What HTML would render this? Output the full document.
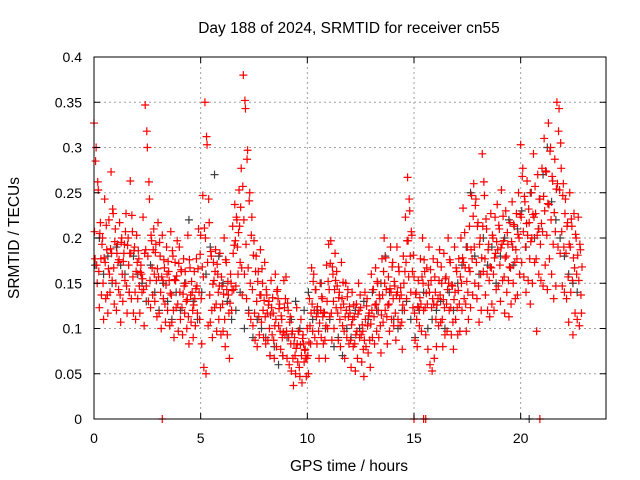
<!DOCTYPE html>
<html><head><meta charset="utf-8"><style>
body{margin:0;background:#fff}
svg{display:block;font-family:"Liberation Sans",sans-serif}
</style></head><body>
<svg id="chart" width="640" height="480" viewBox="0 0 640 480">
<rect width="640" height="480" fill="#fff"/>
<g id="grid"></g>
<g id="marks"></g>
<g id="axes"></g>
<text x="349" y="33" font-size="15.5" text-anchor="middle">Day 188 of 2024, SRMTID for receiver cn55</text>
<text x="349" y="471" font-size="15.5" text-anchor="middle">GPS time / hours</text>
<text transform="translate(19,238) rotate(-90)" font-size="15.5" text-anchor="middle">SRMTID / TECUs</text>
</svg>
<script>
const xTicks=[0,5,10,15,20];
const yTicks=[0,0.05,0.1,0.15,0.2,0.25,0.3,0.35,0.4];
const yTickLabels=["0","0.05","0.1","0.15","0.2","0.25","0.3","0.35","0.4"];
const redStart=0, redStep=0.1;
const redA=[.33,.30,.25,.22,.20,.24,.19,.22,.27,.23,.21,.19,.22,.20,.18,.23,.20,.26,.21,.19,.20,.18,.17,.22,.35,.30,.24,.20,.21,.19,.22,.18,.20,.17,.19,.16,.21,.18,.17,.20,.19,.16,.18,.15,.20,.17,.14,.16,.18,.21,.20,.25,.35,.30,.22,.18,.17,.19,.16,.18,.15,.20,.17,.14,.16,.21,.24,.22,.25,.28,.38,.34,.30,.25,.22,.20,.18,.16,.19,.15,.17,.14,.13,.15,.12,.16,.14,.13,.11,.15,.16,.12,.11,.10,.09,.12,.10,.11,.09,.08,.10,.13,.17,.16,.14,.12,.15,.13,.12,.17,.19,.20,.16,.18,.15,.14,.17,.13,.15,.14,.12,.14,.11,.13,.15,.12,.10,.14,.13,.12,.16,.14,.17,.15,.13,.18,.20,.14,.16,.19,.17,.15,.19,.16,.14,.18,.22,.27,.23,.20,.16,.14,.15,.18,.20,.16,.17,.19,.15,.18,.14,.17,.19,.15,.18,.16,.20,.17,.15,.19,.16,.18,.20,.23,.17,.19,.21,.25,.26,.24,.22,.20,.29,.25,.21,.19,.23,.20,.22,.24,.21,.25,.20,.23,.19,.22,.24,.21,.23,.25,.30,.28,.24,.26,.22,.25,.29,.23,.27,.24,.28,.31,.27,.33,.30,.26,.29,.35,.34,.28,.26,.24,.22,.25,.21,.23,.20,.22,.19];
const redB=[.21,.17,.16,.18,.15,.17,.14,.16,.18,.17,.15,.17,.14,.16,.19,.15,.17,.18,.16,.14,.17,.15,.16,.14,.19,.18,.15,.17,.16,.15,.16,.14,.15,.13,.16,.15,.14,.12,.15,.13,.14,.12,.15,.13,.11,.14,.12,.13,.15,.14,.13,.16,.20,.17,.14,.12,.15,.13,.14,.12,.13,.11,.14,.12,.15,.18,.20,.19,.21,.17,.22,.19,.17,.15,.14,.12,.13,.11,.14,.12,.11,.12,.10,.12,.09,.11,.13,.10,.09,.12,.10,.09,.08,.07,.07,.08,.06,.07,.08,.07,.07,.10,.13,.12,.11,.10,.12,.11,.09,.13,.14,.12,.13,.15,.12,.11,.13,.10,.12,.11,.09,.11,.08,.10,.12,.09,.08,.11,.10,.09,.12,.11,.13,.12,.10,.14,.15,.11,.13,.14,.13,.12,.14,.13,.11,.15,.17,.20,.18,.16,.12,.11,.12,.13,.15,.12,.13,.14,.12,.13,.11,.13,.14,.11,.12,.13,.15,.12,.11,.14,.12,.13,.15,.17,.13,.14,.16,.18,.19,.17,.15,.16,.21,.18,.16,.15,.17,.16,.18,.19,.17,.19,.16,.18,.15,.17,.19,.17,.18,.20,.22,.21,.19,.20,.18,.20,.22,.18,.21,.19,.21,.23,.20,.24,.22,.19,.21,.26,.25,.21,.19,.18,.16,.19,.15,.17,.16,.15,.14];
const redC=[.18,.15,.12,.14,.11,.13,.12,.14,.15,.13,.12,.14,.11,.13,.15,.12,.14,.13,.12,.11,.13,.12,.14,.10,.15,.13,.12,.14,.13,.11,.12,.10,.13,.11,.12,.10,.11,.09,.12,.10,.11,.09,.12,.10,.08,.11,.09,.10,.12,.11,.08,.06,.05,.10,.11,.09,.12,.10,.11,.09,.10,.08,.09,.07,.12,.14,.15,.16,.17,.14,.16,.13,.12,.11,.10,.09,.08,.09,.11,.09,.08,.09,.07,.09,.07,.08,.10,.08,.07,.09,.07,.06,.05,.04,.05,.06,.05,.04,.06,.05,.05,.08,.10,.09,.08,.07,.09,.08,.07,.10,.11,.09,.10,.12,.09,.08,.10,.07,.09,.08,.06,.08,.05,.07,.09,.06,.05,.08,.07,.06,.09,.08,.10,.09,.07,.11,.12,.08,.10,.11,.10,.09,.11,.10,.08,.12,.13,.16,.14,.12,.09,.08,.10,.10,.12,.09,.08,.06,.05,.07,.08,.10,.11,.08,.09,.10,.12,.09,.08,.11,.09,.10,.12,.13,.10,.11,.12,.14,.15,.13,.11,.12,.16,.14,.12,.11,.13,.12,.14,.15,.13,.15,.12,.14,.11,.13,.15,.13,.14,.16,.17,.16,.14,.15,.13,.15,.17,.10,.16,.15,.15,.17,.14,.18,.16,.13,.15,.19,.18,.15,.14,.13,.11,.14,.09,.12,.11,.10,.12];
const redD=[.285,.262,.205,.193,.178,.214,.166,.188,.232,.196,.183,.176,.195,.174,.207,.192,.183,.225,.186,.163,.186,.162,.155,.183,.318,.262,.203,.187,.184,.166,.195,.157,.176,.148,.174,.139,.186,.154,.158,.172,.165,.138,.163,.132,.176,.152,.126,.144,.166,.182,.168,.211,.312,.243,.185,.149,.163,.171,.147,.157,.138,.176,.152,.128,.142,.192,.223,.206,.234,.257,.352,.287,.241,.203,.181,.163,.152,.137,.166,.131,.143,.126,.115,.134,.103,.141,.122,.114,.096,.133,.128,.107,.094,.083,.078,.097,.082,.089,.076,.067,.085,.117,.152,.143,.124,.106,.135,.118,.103,.152,.172,.168,.143,.163,.134,.123,.151,.113,.135,.124,.104,.126,.093,.116,.137,.104,.087,.125,.114,.105,.143,.126,.152,.137,.115,.163,.178,.126,.144,.168,.152,.137,.168,.145,.126,.163,.197,.243,.207,.181,.138,.124,.134,.157,.176,.139,.148,.165,.133,.157,.126,.153,.168,.132,.155,.143,.176,.148,.132,.167,.142,.157,.178,.206,.152,.167,.187,.224,.236,.213,.193,.178,.262,.221,.187,.168,.203,.178,.196,.214,.189,.224,.178,.206,.168,.196,.215,.187,.204,.226,.268,.246,.216,.232,.196,.226,.257,.203,.243,.216,.246,.274,.238,.296,.268,.228,.254,.318,.305,.247,.227,.213,.193,.221,.178,.204,.181,.193,.168];
const blackStart=0.05, blackStep=0.2;
const blackVals=[.17,.20,.16,.18,.15,.19,.17,.16,.14,.18,.16,.15,.13,.17,.14,.12,.15,.13,.11,.14,.12,.15,.22,.13,.11,.14,.16,.19,.27,.18,.15,.13,.11,.12,.14,.10,.12,.09,.11,.10,.09,.07,.08,.06,.07,.09,.11,.13,.10,.12,.14,.11,.12,.15,.10,.11,.08,.09,.07,.10,.09,.12,.10,.13,.11,.14,.12,.15,.18,.14,.11,.10,.12,.13,.11,.09,.12,.14,.10,.11,.12,.13,.10,.14,.12,.15,.17,.19,.25,.18,.16,.20,.17,.19,.15,.18,.20,.22,.17,.21,.23,.19,.25,.20,.21,.27,.30,.24,.22,.20,.18,.16,.15,.14];
const zeroRedTimes=[3.2,15.0,15.45,15.55,20.9];
const zeroRedVals=[0,0,0,0,0];
const zeroBlackTimes=[20.4];
const zeroBlackVals=[0];

const X0=94,X1=606,Y0=419,Y1=57,XMAX=24,YMAX=0.4;
const xs=t=>X0+(t/XMAX)*(X1-X0);
const ys=v=>Y0-(v/YMAX)*(Y0-Y1);
const NS="http://www.w3.org/2000/svg";
function mk(tag,attrs,parent){const e=document.createElementNS(NS,tag);for(const k in attrs)e.setAttribute(k,attrs[k]);parent.appendChild(e);return e;}
const grid=document.getElementById('grid'),axes=document.getElementById('axes'),marks=document.getElementById('marks');
yTicks.forEach((v,i)=>{const y=ys(v);
 if(i>0&&i<yTicks.length-1){const g=mk('line',{x1:X0,x2:X1,y1:y,y2:y,stroke:'#a0a0a0','stroke-dasharray':'2,3'},grid);
 
 }
 mk('line',{x1:X0,x2:X0+6,y1:y,y2:y,stroke:'#000'},axes);
 mk('line',{x1:X1,x2:X1-6,y1:y,y2:y,stroke:'#000'},axes);
 const t=mk('text',{x:X0-12,y:y+5,'font-size':14,'text-anchor':'end'},axes);t.textContent=yTickLabels[i];
 
 
});
xTicks.forEach(v=>{const x=xs(v);
 if(v>0){const g=mk('line',{x1:x,x2:x,y1:Y0,y2:Y1,stroke:'#a0a0a0','stroke-dasharray':'2,3'},grid);
 
 }
 mk('line',{x1:x,x2:x,y1:Y0,y2:Y0-6,stroke:'#000'},axes);
 mk('line',{x1:x,x2:x,y1:Y1,y2:Y1+6,stroke:'#000'},axes);
 const t=mk('text',{x:x,y:Y0+24,'font-size':14,'text-anchor':'middle'},axes);t.textContent=String(v);
 
 
});
const frame=mk('rect',{x:X0,y:Y1,width:X1-X0,height:Y0-Y1,fill:'none',stroke:'#000'},axes);


function plus(t,v,color,name){const x=xs(t),y=ys(v);
 const p=mk('path',{d:`M${x-4},${y}H${x+4}M${x},${y-4}V${y+4}`,stroke:color,'stroke-width':1.2,fill:'none'},marks);
 
 
}
blackVals.forEach((v,i)=>plus(blackStart+i*blackStep,v,'#404040','black-point'));
zeroBlackTimes.forEach((t,i)=>plus(t,zeroBlackVals[i],'#404040','black-point'));
[redA,redB,redC,redD].forEach((arr,k)=>arr.forEach((v,i)=>plus(redStart+i*redStep+k*0.025,v+(k<3?(i%3-1)*0.003:0),'#ff0000','red-point')));
zeroRedTimes.forEach((t,i)=>plus(t,zeroRedVals[i],'#ff0000','red-point'));
</script>
</body></html>
